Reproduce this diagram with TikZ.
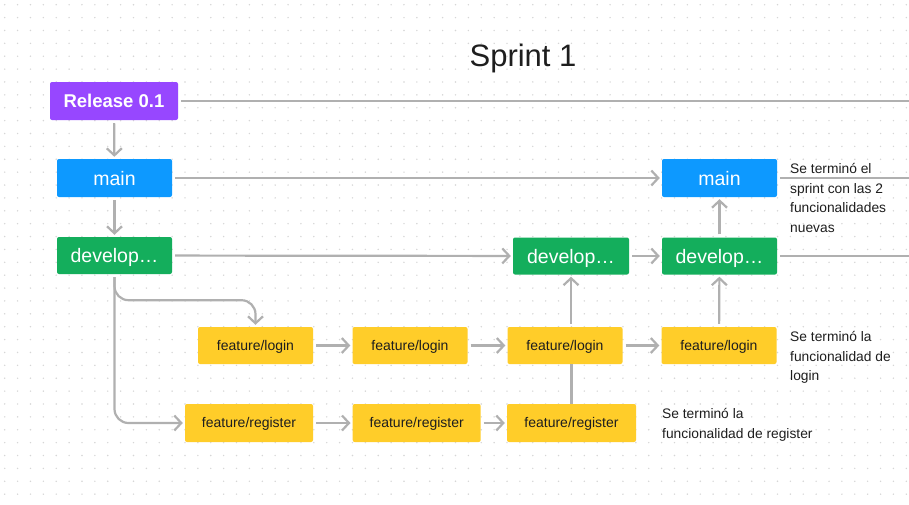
\documentclass[tikz,border=0pt]{standalone}
\usepackage{fontspec}
\setmainfont{Liberation Sans}
\usepackage{tikz}
\usetikzlibrary{positioning}
\usetikzlibrary{arrows.meta}

\definecolor{relpurple}{HTML}{9747FF}
\definecolor{mainblue}{HTML}{0D99FF}
\definecolor{devgreen}{HTML}{14AE5C}
\definecolor{featyellow}{HTML}{FFCD29}
\definecolor{linegray}{HTML}{B0B0B0}
\definecolor{dotgray}{HTML}{D6D6D6}
\definecolor{inkdark}{HTML}{1E1E1E}

\tikzset{
	branch/.style={rounded corners=2pt, minimum height=37pt, inner sep=0pt, text height=14pt, text depth=0pt, text=white, font=\fontsize{19.5}{21}\selectfont},
	release/.style={branch, fill=relpurple, minimum width=128pt, minimum height=38pt, text height=13.2pt, font=\bfseries\fontsize{18.5}{20}\selectfont},
	mainbox/.style={branch, fill=mainblue, minimum width=115pt, minimum height=38pt},
	devbox/.style={branch, fill=devgreen, minimum width=115pt},
	featbox/.style={branch, fill=featyellow, text=inkdark, text height=9pt, font=\fontsize{14}{16}\selectfont},
	note/.style={anchor=north west, align=left, text=inkdark, inner sep=0pt, font=\fontsize{13.8}{19.5}\selectfont},
	plain/.style={draw=linegray, line width=2.2pt, shorten <=3pt},
	link/.style={plain, ->, shorten >=2pt},
}

\begin{document}
\begin{tikzpicture}[x=1pt,y=-1pt,>={Straight Barb[length=7pt,width=15pt]}]
	\useasboundingbox (0,0) rectangle (909,504);
	\fill[white] (0,0) rectangle (909,504);
	% dotted canvas
	\foreach \i in {0,...,70}
		\foreach \j in {0,...,38}
			\fill[dotgray] (4.7+\i*12.88,4.7+\j*12.88) circle (0.8pt);

	\node[text=inkdark,font=\fontsize{31}{34}\selectfont] (title) at (523,58) {Sprint 1};
	\coordinate (edge) at (909,0);

	\node[release] (rel) at (114,101) {Release 0.1};
	\node[mainbox] (main1) at (114.5,178) {main};
	\node[devbox] (dev1) at (114.5,255.5) {develop…};

	\node[mainbox] (main2) at (719.5,178) {main};
	\node[devbox, minimum width=116pt] (dev2) at (571,256) {develop…};
	\node[devbox] (dev3) at (719.5,256) {develop…};

	\node[featbox, minimum width=115pt] (login1) at (255.5,345.5) {feature/login};
	\node[featbox, minimum width=115pt] (login2) at (410,345.5) {feature/login};
	\node[featbox, minimum width=115pt] (login3) at (565,345.5) {feature/login};
	\node[featbox, minimum width=115pt] (login4) at (719,345.5) {feature/login};

	\node[featbox, minimum width=128pt, minimum height=38pt] (reg1) at (249,423) {feature/register};
	\node[featbox, minimum width=128pt, minimum height=38pt] (reg2) at (416.7,423) {feature/register};
	\node[featbox, minimum width=129pt, minimum height=38pt] (reg3) at (571.5,423) {feature/register};

	\node[note] (note1) at (790,163.5) {Se terminó el\\sprint con las 2\\funcionalidades\\nuevas};
	\node[note] (note2) at (790,331.5) {Se terminó la\\funcionalidad de\\login};
	\node[note] (note3) at (662,408.5) {Se terminó la\\funcionalidad de register};

	% lines running off the canvas
	\draw[plain] (rel.east) -- (rel.east -| edge);
	\draw[plain] (main2.east) -- (main2.east -| edge);
	\draw[plain] (dev3.east) -- (dev3.east -| edge);

	\draw[link] (rel) -- (main1);
	\draw[link] (main1) -- (dev1);
	\draw[link] (main1) -- (main2);
	\draw[link] (dev1) -- (dev2);
	\draw[link] (dev2) -- (dev3);
	\draw[link] (dev3) -- (main2);

	\draw[link, rounded corners=14pt] (dev1.south) -- ++(0,26) -| (login1.north);
	\draw[link, rounded corners=14pt] (dev1.south) |- (reg1.west);

	\draw[link] (login1) -- (login2);
	\draw[link] (login2) -- (login3);
	\draw[link] (login3) -- (login4);
	\draw[link] (reg1) -- (reg2);
	\draw[link] (reg2) -- (reg3);

	\draw[link] (dev2.south |- login3.north) -- (dev2.south);
	\draw[plain, shorten >=0pt, shorten <=0pt] (reg3.north) -- (reg3.north |- login3.south);
	\draw[link] (login4) -- (dev3);
\end{tikzpicture}
\end{document}
